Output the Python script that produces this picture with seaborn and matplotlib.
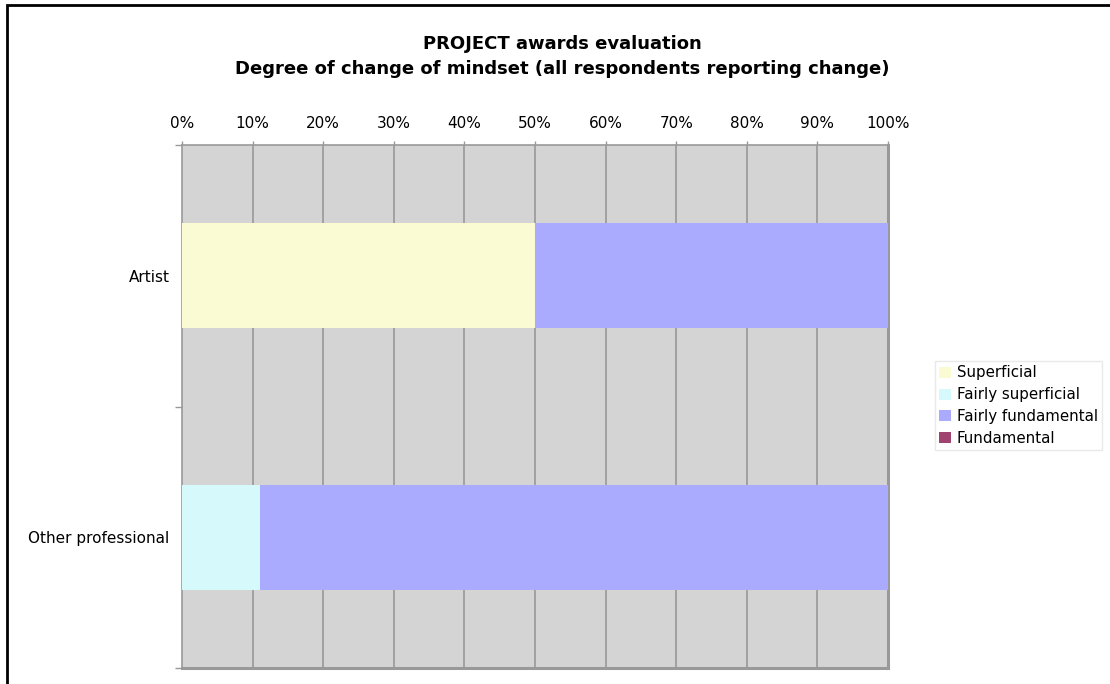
import matplotlib
matplotlib.use("Agg")
import matplotlib.pyplot as plt
import seaborn as sns
import pandas as pd
import numpy as np
from matplotlib.patches import Patch, Rectangle

categories = ["Artist", "Other professional"]
series = ["Superficial", "Fairly superficial", "Fairly fundamental", "Fundamental"]
superficial = [50.0, 0.0]
fairly_superficial = [0.0, 11.1]
fairly_fundamental = [50.0, 88.9]
fundamental = [0.0, 0.0]
x_ticks = [0, 10, 20, 30, 40, 50, 60, 70, 80, 90, 100]
x_tick_labels = [f"{v}%" for v in x_ticks]
colors = ["#FAFBD3", "#D6F9FB", "#AAAAFF", "#A0436F"]

sns.set_theme(style="white")
plt.rcParams["font.family"] = ["DejaVu Sans"]
plt.rcParams["text.color"] = "black"
plt.rcParams["xtick.color"] = "black"
plt.rcParams["ytick.color"] = "black"

values = [superficial, fairly_superficial, fairly_fundamental, fundamental]
cum = np.cumsum(np.array(values), axis=0)

fig = plt.figure(figsize=(11.1, 6.84), dpi=100)
ax = fig.add_axes([182/1110, 1-668/684, (888-182)/1110, (668-145)/684])
ax.set_facecolor("#D4D4D4")

# stacked bars: largest cumulative first so later ones overlap
for i in reversed(range(len(series))):
    df = pd.DataFrame({"cat": categories, "val": cum[i]})
    sns.barplot(data=df, y="cat", x="val", orient="h", color=colors[i],
                width=0.4, linewidth=0, saturation=1, ax=ax, zorder=3)

ax.set_xlim(0, 100)
ax.set_ylim(1.5, -0.5)
ax.set_xlabel("")
ax.set_ylabel("")
ax.xaxis.tick_top()
ax.set_xticks(x_ticks)
ax.set_xticklabels(x_tick_labels, fontsize=11, color="black")
ax.tick_params(axis="x", which="major", length=3, width=1, colors="black", color="#999999",
               pad=7, top=True, bottom=False)
ax.set_yticks([0, 1])
ax.set_yticklabels(categories, fontsize=11, color="black")
ax.tick_params(axis="y", which="major", length=0, pad=9)
ax.set_yticks([-0.5, 0.5, 1.5], minor=True)
ax.tick_params(axis="y", which="minor", length=5, width=1, color="#999999", left=True)
ax.grid(False)
for v in x_ticks[1:-1]:
    ax.axvline(v, color="#999999", linewidth=1.2, zorder=1)
for s in ["left", "top"]:
    ax.spines[s].set_color("#999999")
    ax.spines[s].set_linewidth(1.2)
for s in ["right", "bottom"]:
    ax.spines[s].set_color("#999999")
    ax.spines[s].set_linewidth(2.2)
for s in ax.spines.values():
    s.set_visible(True)

fig.text(562/1110, 1-44/684, "PROJECT awards evaluation", ha="center", va="center",
         fontsize=13, fontweight="bold", color="black")
fig.text(562/1110, 1-69/684, "Degree of change of mindset (all respondents reporting change)",
         ha="center", va="center", fontsize=13, fontweight="bold", color="black")

handles = [Patch(facecolor=c, edgecolor="none") for c in colors]
leg = fig.legend(handles, series, loc="upper left", bbox_to_anchor=(935/1110, 1-361/684),
                 frameon=True, fontsize=10.8, handlelength=0.75, handleheight=0.75,
                 handletextpad=0.4, borderpad=0.3, borderaxespad=0, labelspacing=0.45,
                 fancybox=False, labelcolor="black")
leg.get_frame().set_edgecolor("#E4E4E4")
leg.get_frame().set_linewidth(1)

# outer border (screenshot crop: left and top visible)
fig.patches.append(Rectangle((7/1110, -0.05), 1.2, 1 - 5/684 + 0.05, transform=fig.transFigure,
                             fill=False, edgecolor="black", linewidth=2))

fig.savefig("out.png", dpi=100)
